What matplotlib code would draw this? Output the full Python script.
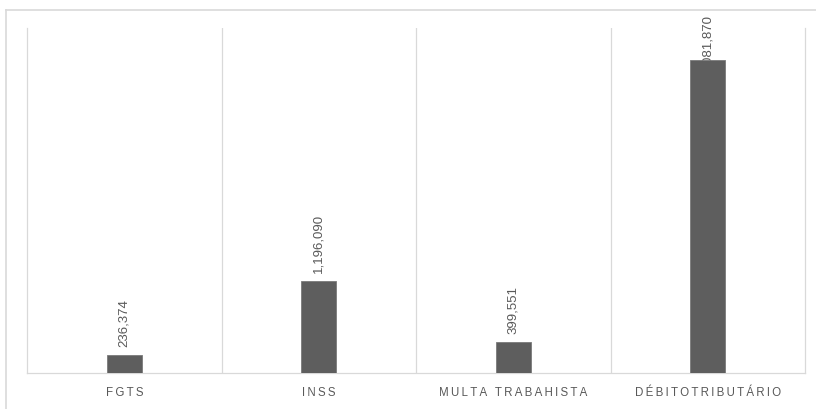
import matplotlib
matplotlib.use("Agg")
import matplotlib.pyplot as plt
from matplotlib.lines import Line2D

plt.rcParams['font.family'] = ['Liberation Sans', 'DejaVu Sans']

categorias = ["FGTS", "INSS", "MULTA TRABAHISTA", "DÉBITOTRIBUTÁRIO"]
valores = [236374, 1196090, 399551, 4081870]
rotulos = ["236,374", "1,196,090", "399,551", "4,081,870"]

cinza = "#595959"
grade = "#d9d9d9"

W, H = 816, 409
fig = plt.figure(figsize=(W / 100, H / 100), dpi=100)
ax = fig.add_axes([27 / W, 36 / H, (805 - 27) / W, (373 - 28) / H])

x = list(range(len(categorias)))
ax.bar(x, valores, width=0.18, color="#5e5e5e", edgecolor="#7a7a7a", linewidth=0.6, zorder=3)

ax.set_xlim(-0.5, len(categorias) - 0.5)
ax.set_ylim(0, 4.5e6)

# separadores entre categorias
for b in [i + 0.5 for i in range(len(categorias) - 1)]:
    ax.axvline(b, color=grade, lw=0.9, zorder=1)

for lado in ["left", "right", "bottom"]:
    ax.spines[lado].set_color(grade)
    ax.spines[lado].set_linewidth(0.9)
ax.spines["top"].set_visible(False)
ax.set_yticks([])
ax.tick_params(axis="x", length=0, pad=10)

# rotulos do eixo com espacamento entre letras
espacado = ["\u2009".join(c) for c in categorias]
ax.set_xticks(x)
ax.set_xticklabels(espacado, fontsize=8.3, color=cinza)

# rotulos de valor; o que passa do topo da area do grafico desce e fica atras da barra
limite = H - 15
fig.canvas.draw()
rend = fig.canvas.get_renderer()
for xi, v, r in zip(x, valores, rotulos):
    t = ax.annotate(r, (xi, v), xytext=(0, 6), textcoords="offset points",
                    rotation=90, ha="center", va="bottom", fontsize=9.5,
                    color=cinza, annotation_clip=False, zorder=2)
    bb = t.get_window_extent(rend)
    if bb.y1 > limite:
        t.set_position((0, 6 - (bb.y1 - limite) * 72 / fig.dpi))

# moldura externa
fig.add_artist(Line2D([6 / W, 1], [(H - 10) / H] * 2, color=grade, lw=1.2,
                      transform=fig.transFigure))
fig.add_artist(Line2D([6 / W] * 2, [0, (H - 10) / H], color=grade, lw=1.2,
                      transform=fig.transFigure))

fig.savefig("out.png", dpi=100, facecolor="white")
